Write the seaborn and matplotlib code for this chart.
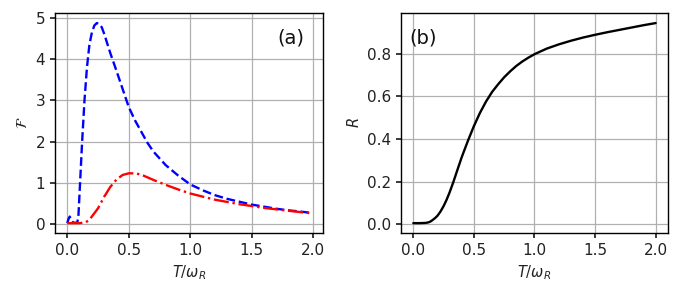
import numpy as np
import pandas as pd
import matplotlib
matplotlib.use("Agg")
import matplotlib.pyplot as plt
import seaborn as sns

# panel (a): F vs T/omega_R
t_blue = [0.0, 0.01, 0.02, 0.035, 0.05, 0.08, 0.09, 0.10, 0.11, 0.12, 0.14, 0.16, 0.18, 0.20,
          0.22, 0.24, 0.26, 0.28, 0.30, 0.35, 0.40, 0.45, 0.50, 0.55, 0.60, 0.65, 0.70, 0.80,
          0.90, 1.00, 1.10, 1.20, 1.30, 1.40, 1.50, 1.60, 1.70, 1.80, 1.90, 1.98]
f_blue = [0.02, 0.12, 0.18, 0.08, 0.03, 0.03, 0.15, 0.75, 1.35, 1.95, 3.0, 3.8, 4.35, 4.65,
          4.82, 4.88, 4.86, 4.78, 4.62, 4.15, 3.72, 3.28, 2.84, 2.52, 2.25, 1.98, 1.76, 1.43,
          1.18, 0.96, 0.82, 0.70, 0.61, 0.54, 0.47, 0.42, 0.37, 0.33, 0.30, 0.27]
t_red = [0.0, 0.05, 0.10, 0.15, 0.18, 0.20, 0.25, 0.30, 0.35, 0.40, 0.45, 0.50, 0.55, 0.60,
         0.70, 0.80, 0.90, 1.00, 1.20, 1.40, 1.60, 1.80, 1.98]
f_red = [0.02, 0.02, 0.02, 0.04, 0.10, 0.18, 0.38, 0.66, 0.90, 1.08, 1.19, 1.23, 1.23, 1.20,
         1.07, 0.95, 0.84, 0.74, 0.59, 0.48, 0.39, 0.32, 0.26]

# panel (b): R vs T/omega_R
t_r = [0.0, 0.05, 0.10, 0.12, 0.14, 0.16, 0.18, 0.20, 0.225, 0.25, 0.275, 0.30, 0.33, 0.36,
       0.40, 0.45, 0.50, 0.55, 0.60, 0.65, 0.70, 0.75, 0.80, 0.85, 0.90, 0.95, 1.00, 1.10,
       1.20, 1.30, 1.40, 1.50, 1.60, 1.70, 1.80, 1.90, 2.0]
r_val = [0.005, 0.005, 0.006, 0.008, 0.012, 0.02, 0.029, 0.04, 0.06, 0.085, 0.115, 0.15, 0.197,
         0.248, 0.315, 0.39, 0.46, 0.522, 0.575, 0.62, 0.656, 0.689, 0.717, 0.742, 0.763, 0.781,
         0.797, 0.823, 0.843, 0.86, 0.875, 0.888, 0.9, 0.911, 0.922, 0.933, 0.943]

sns.set_theme(style="whitegrid", rc={
    "axes.edgecolor": "black",
    "axes.linewidth": 1.0,
    "grid.color": "#b0b0b0",
    "grid.linewidth": 0.9,
    "xtick.bottom": True,
    "ytick.left": True,
    "xtick.color": "#222222",
    "ytick.color": "#222222",
    "xtick.major.size": 3.5,
    "ytick.major.size": 3.5,
})
plt.rcParams['font.family'] = ['DejaVu Sans']

fig = plt.figure(figsize=(6.8, 2.97), dpi=100)
ax1 = fig.add_axes([0.081, 0.215, 0.394, 0.741])
ax2 = fig.add_axes([0.590, 0.215, 0.392, 0.741])

sns.lineplot(x=t_blue, y=f_blue, ax=ax1, color="blue", linestyle="--", linewidth=1.7, sort=False)
sns.lineplot(x=t_red, y=f_red, ax=ax1, color="red", linestyle="-.", linewidth=1.7, sort=False)
ax1.set_xlabel(r"$T/\omega_R$", fontsize=10.5, color="#222222")
ax1.set_ylabel(r"$\mathcal{F}$", fontsize=10.5, color="#222222")
ax1.set_xticks([0.0, 0.5, 1.0, 1.5, 2.0])
ax1.set_xticklabels(["0.0", "0.5", "1.0", "1.5", "2.0"])
ax1.tick_params(labelsize=11)
ax1.text(0.93, 0.93, "(a)", transform=ax1.transAxes, ha="right", va="top", fontsize=14, color="#111111")

sns.lineplot(x=t_r, y=r_val, ax=ax2, color="black", linewidth=1.7, sort=False)
ax2.set_xlabel(r"$T/\omega_R$", fontsize=10.5, color="#222222")
ax2.set_ylabel(r"$R$", fontsize=10.5, color="#222222")
ax2.set_xticks([0.0, 0.5, 1.0, 1.5, 2.0])
ax2.set_xticklabels(["0.0", "0.5", "1.0", "1.5", "2.0"])
ax2.set_yticks([0.0, 0.2, 0.4, 0.6, 0.8])
ax2.tick_params(labelsize=11)
ax2.text(0.03, 0.93, "(b)", transform=ax2.transAxes, ha="left", va="top", fontsize=14, color="#111111")

fig.savefig("out.png", dpi=100)
